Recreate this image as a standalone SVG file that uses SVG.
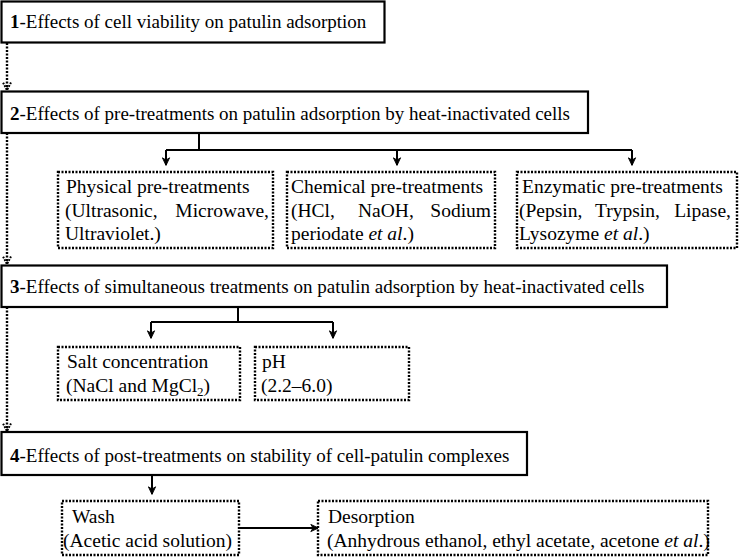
<svg xmlns="http://www.w3.org/2000/svg" width="740" height="557" viewBox="0 0 740 557">
<defs>
<style>
text{font-family:"Liberation Serif","Times New Roman",serif;fill:#000}
.t{font-size:19px}
.s{font-size:19.5px}
.b{font-weight:bold}
.i{font-style:italic}
.main{fill:#fff;stroke:#000;stroke-width:2.2}
.sub{fill:#fff;stroke:#000;stroke-width:2.4;stroke-dasharray:2 1.5}
.con{fill:none;stroke:#000;stroke-width:2}
.dot{fill:none;stroke:#000;stroke-width:2.4;stroke-dasharray:2 1.5}
</style>
<marker id="ar" viewBox="0 0 10 10" refX="9" refY="5" markerWidth="9" markerHeight="9" markerUnits="userSpaceOnUse" orient="auto">
<path d="M1,1 L9.5,5 L1,9 L3.5,5 z" fill="#000" stroke="#000" stroke-width="1"/>
</marker>
<marker id="ad" viewBox="0 0 10 10" refX="9" refY="5" markerWidth="10" markerHeight="10" markerUnits="userSpaceOnUse" orient="auto">
<path d="M1.5,1 L9,5 L1.5,9" fill="none" stroke="#000" stroke-width="2" stroke-dasharray="1.8 1.2"/>
</marker>
</defs>
<rect width="740" height="557" fill="#fff"/>
<g id="connectors">
<line class="dot" x1="7" y1="43" x2="7" y2="90" marker-end="url(#ad)"/>
<line class="dot" x1="7" y1="133" x2="7" y2="264" marker-end="url(#ad)"/>
<line class="dot" x1="7" y1="307" x2="7" y2="431" marker-end="url(#ad)"/>
<polyline class="con" points="199,133 199,150"/>
<line class="con" x1="166" y1="150" x2="632" y2="150"/>
<line class="con" x1="166" y1="150" x2="166" y2="165" marker-end="url(#ar)"/>
<line class="con" x1="397" y1="150" x2="397" y2="165" marker-end="url(#ar)"/>
<line class="con" x1="632" y1="150" x2="632" y2="165" marker-end="url(#ar)"/>
<polyline class="con" points="238,307 238,322"/>
<line class="con" x1="151" y1="322" x2="333" y2="322"/>
<line class="con" x1="151" y1="322" x2="151" y2="338" marker-end="url(#ar)"/>
<line class="con" x1="333" y1="322" x2="333" y2="338" marker-end="url(#ar)"/>
<line class="con" x1="152" y1="475" x2="152" y2="494" marker-end="url(#ar)"/>
<line class="con" x1="239" y1="528" x2="318" y2="528" marker-end="url(#ar)"/>
</g>
<g id="n1">
<rect class="main" x="1.5" y="1.5" width="383" height="41"/>
<text class="t" x="10" y="28"><tspan class="b">1</tspan>-Effects of cell viability on patulin adsorption</text>
</g>
<g id="n2">
<rect class="main" x="1.5" y="91.5" width="586.5" height="41.5"/>
<text class="t" x="10" y="120"><tspan class="b">2</tspan>-Effects of pre-treatments on patulin adsorption by heat-inactivated cells</text>
</g>
<g id="n2a">
<rect class="sub" x="58" y="172" width="215" height="76"/>
<text class="s" x="66" y="193">Physical pre-treatments</text>
<text class="s" x="65" y="217">(Ultrasonic,</text>
<text class="s" x="269" y="217" text-anchor="end">Microwave,</text>
<text class="s" x="65" y="240">Ultraviolet.)</text>
</g>
<g id="n2b">
<rect class="sub" x="287" y="172" width="208" height="76"/>
<text class="s" x="291" y="193">Chemical pre-treatments</text>
<text class="s" x="291" y="217">(HCl,</text>
<text class="s" x="358" y="217">NaOH,</text>
<text class="s" x="491" y="217" text-anchor="end">Sodium</text>
<text class="s" x="291" y="240">periodate <tspan class="i">et al</tspan>.)</text>
</g>
<g id="n2c">
<rect class="sub" x="517" y="172" width="220" height="76"/>
<text class="s" x="522" y="193">Enzymatic pre-treatments</text>
<text class="s" x="519" y="217">(Pepsin,</text>
<text class="s" x="595" y="217">Trypsin,</text>
<text class="s" x="731" y="217" text-anchor="end">Lipase,</text>
<text class="s" x="519" y="240">Lysozyme <tspan class="i">et al</tspan>.)</text>
</g>
<g id="n3">
<rect class="main" x="1.5" y="265.5" width="665.5" height="41.5"/>
<text class="t" x="10" y="293"><tspan class="b">3</tspan>-Effects of simultaneous treatments on patulin adsorption by heat-inactivated cells</text>
</g>
<g id="n3a">
<rect class="sub" x="58" y="347" width="182" height="53"/>
<text class="s" x="67" y="368">Salt concentration</text>
<text class="s" x="66" y="392">(NaCl and MgCl<tspan font-size="13" dy="4">2</tspan><tspan dy="-4">)</tspan></text>
</g>
<g id="n3b">
<rect class="sub" x="255" y="347" width="154" height="53"/>
<text class="s" x="262" y="368">pH</text>
<text class="s" x="261" y="392">(2.2–6.0)</text>
</g>
<g id="n4">
<rect class="main" x="1.5" y="432" width="525.5" height="43"/>
<text class="t" x="10" y="462"><tspan class="b">4</tspan>-Effects of post-treatments on stability of cell-patulin complexes</text>
</g>
<g id="n4a">
<rect class="sub" x="62" y="501" width="177" height="54"/>
<text class="s" x="72" y="523">Wash</text>
<text class="s" x="63" y="547">(Acetic acid solution)</text>
</g>
<g id="n4b">
<rect class="sub" x="318" y="501" width="390" height="54"/>
<text class="s" x="328" y="523">Desorption</text>
<text class="s" x="327" y="547">(Anhydrous ethanol, ethyl acetate, acetone <tspan class="i">et al</tspan>.)</text>
</g>
</svg>
